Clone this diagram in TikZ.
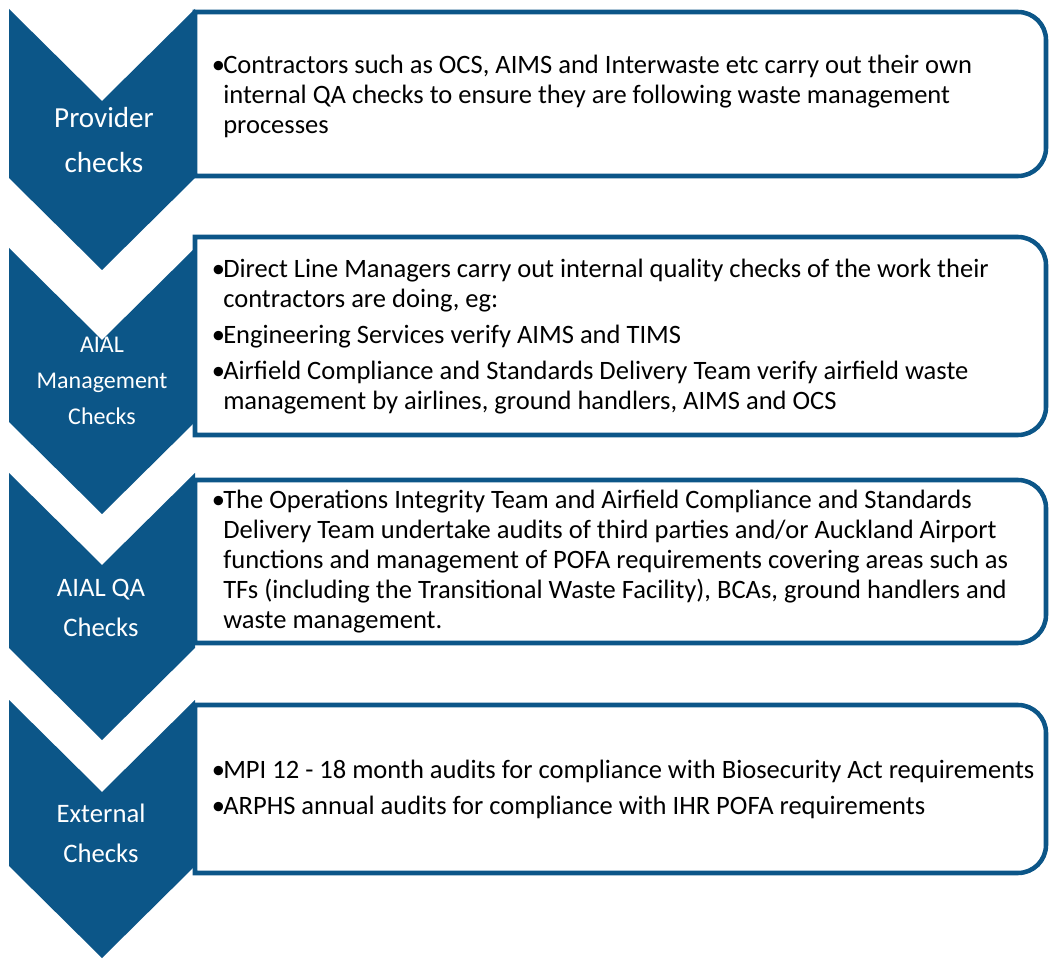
\documentclass[tikz,border=0pt]{standalone}
\usepackage{fontspec}
\setmainfont{Carlito}
\definecolor{chevblue}{RGB}{12,86,136}
\tikzset{
  chev/.style={fill=chevblue},
  stepframe/.style={draw=chevblue, line width=3.4pt, fill=white},
  steplabel/.style={text=white, align=center, inner sep=0pt},
  steptext/.style={anchor=west, align=left, inner sep=0pt, font=\fontsize{19.9}{22.5}\selectfont}
}
\newcommand{\bul}{\makebox[7.5pt][l]{\hspace*{-1pt}•}}
\newcommand{\ind}{\hspace*{7.5pt}}
\newcommand{\chevronat}[2]{\fill[chev] (9,-#1) -- (102,-#1-92) -- (195,-#1) -- (195,-#2) -- (102,-#2-92) -- (9,-#2) -- cycle;}
\newcommand{\frameat}[2]{\draw[stepframe] (195,-#1) -- (1018,-#1) arc[start angle=90, end angle=0, radius=21pt] -- (1046,-#2+28) arc[start angle=0, end angle=-90, radius=21pt] -- (195,-#2) -- cycle;}

\begin{document}
\begin{tikzpicture}[x=0.75pt, y=0.75pt]
  \useasboundingbox (0,0) rectangle (1051,-959);
  \frameat{12}{176}
  \frameat{237}{435}
  \frameat{480}{643}
  \frameat{705}{873}
  \chevronat{9}{178}
  \chevronat{248}{422}
  \chevronat{473}{648}
  \chevronat{700}{866}

  \node[steplabel, font=\fontsize{21.8}{33.75}\selectfont] (provider) at (104,-140) {Provider\\checks};
  \node[steplabel, font=\fontsize{18}{27}\selectfont] (mgmt) at (102,-381) {AIAL\\Management\\Checks};
  \node[steplabel, font=\fontsize{20}{30}\selectfont] (qa) at (101,-608) {AIAL QA\\Checks};
  \node[steplabel, font=\fontsize{20}{30}\selectfont] (external) at (101,-833) {External\\Checks};

  \node[steptext] (providertext) at (213,-96) {\bul Contractors such as OCS, AIMS and Interwaste etc carry out their own\\
    \ind internal QA checks to ensure they are following waste management\\
    \ind processes};
  \node[steptext] (mgmttext) at (213,-337) {\bul Direct Line Managers carry out internal quality checks of the work their\\
    \ind contractors are doing, eg:\\[4.5pt]
    \bul Engineering Services verify AIMS and TIMS\\[4.5pt]
    \bul Airfield Compliance and Standards Delivery Team verify airfield waste\\
    \ind management by airlines, ground handlers, AIMS and OCS};
  \node[steptext] (qatext) at (213,-562) {\bul The Operations Integrity Team and Airfield Compliance and Standards\\
    \ind Delivery Team undertake audits of third parties and/or Auckland Airport\\
    \ind functions and management of POFA requirements covering areas such as\\
    \ind TFs (including the Transitional Waste Facility), BCAs, ground handlers and\\
    \ind waste management.};
  \node[steptext] (externaltext) at (213,-789) {\bul MPI 12 - 18 month audits for compliance with Biosecurity Act requirements\\[4.5pt]
    \bul ARPHS annual audits for compliance with IHR POFA requirements};
\end{tikzpicture}
\end{document}
